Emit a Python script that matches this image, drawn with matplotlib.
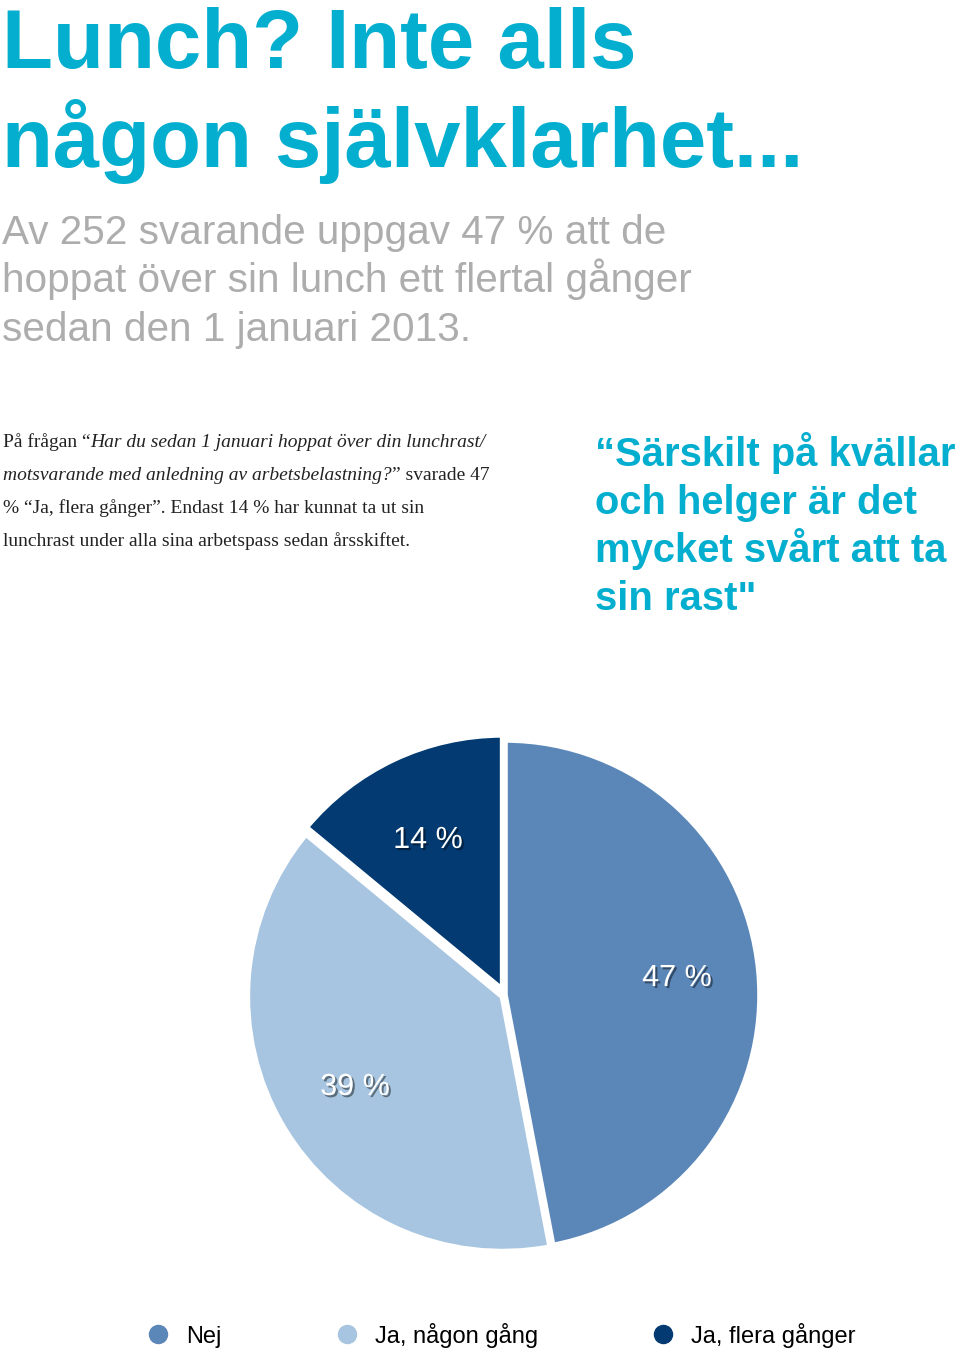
# -*- coding: utf-8 -*-
"""
Pie chart: did people skip lunch since 1 January 2013 (252 answers).
"""
import matplotlib
matplotlib.use("Agg")
import matplotlib.pyplot as plt
import matplotlib.patheffects as pe
from matplotlib.lines import Line2D

# data
labels = ["Nej", "Ja, någon gång", "Ja, flera gånger"]
shares = [47, 39, 14]
pct_texts = ["47 %", "39 %", "14 %"]
colors = ["#5b87b8", "#a7c5e0", "#023a71"]

title_lines = ["Lunch? Inte alls", "någon självklarhet..."]
sub_lines = ["Av 252 svarande uppgav 47 % att de",
             "hoppat över sin lunch ett flertal gånger",
             "sedan den 1 januari 2013."]
quote_lines = ["“Särskilt på kvällar", "och helger är det",
               "mycket svårt att ta", "sin rast\""]
body_lines = [
    [("På frågan “", "normal"), ("Har du sedan 1 januari hoppat över din lunchrast/", "italic")],
    [("motsvarande med anledning av arbetsbelastning?", "italic"), ("” svarade 47", "normal")],
    [("% “Ja, flera gånger”. Endast 14 % har kunnat ta ut sin", "normal")],
    [("lunchrast under alla sina arbetspass sedan årsskiftet.", "normal")],
]

CYAN = "#03aecf"
W, H = 960, 1351

fig = plt.figure(figsize=(W / 100, H / 100), dpi=100)
fig.patch.set_facecolor("white")


def fy(y):
    # pixel row from the top -> figure fraction
    return 1 - y / H


# title
for i, line in enumerate(title_lines):
    fig.text(2 / W, fy(68 + i * 99), line, color=CYAN, fontsize=60,
             fontweight="bold", family="Liberation Sans", va="baseline")

# grey sub heading
for i, line in enumerate(sub_lines):
    fig.text(2 / W, fy(244 + i * 48.5), line, color="#adadad", fontsize=29.2,
             family="Liberation Sans", va="baseline")

# body text with mixed roman / italic runs
renderer = fig.canvas.get_renderer()
for i, parts in enumerate(body_lines):
    x = 3
    for s, st in parts:
        t = fig.text(x / W, fy(447 + i * 33), s, color="#222222", fontsize=14,
                     family="Liberation Serif", style=st, va="baseline")
        x = t.get_window_extent(renderer).x1

# quote
for i, line in enumerate(quote_lines):
    fig.text(595 / W, fy(466 + i * 48), line, color=CYAN, fontsize=28.8,
             fontweight="bold", family="Liberation Sans", va="baseline")

# pie
cx, cy, R = 505, 995, 255
ax = fig.add_axes([(cx - R) / W, (H - cy - R) / H, 2 * R / W, 2 * R / H])
wedges, _ = ax.pie(shares, colors=colors, startangle=90, counterclock=False,
                   explode=[0, 0.012, 0.022],
                   wedgeprops=dict(edgecolor="white", linewidth=4))
ax.set_xlim(-1, 1)
ax.set_ylim(-1, 1)
ax.set_aspect("equal")
ax.axis("off")

shadow = [pe.SimplePatchShadow(offset=(1.5, -1.5), shadow_rgbFace="black", alpha=0.45),
          pe.Normal()]
label_pos = [(677, 978), (355, 1087), (428, 840)]
for txt, (px, py) in zip(pct_texts, label_pos):
    fig.text(px / W, fy(py), txt, color="white", fontsize=22,
             family="Liberation Sans", ha="center", va="center",
             path_effects=shadow)

# legend
handles = [Line2D([], [], marker="o", linestyle="", markersize=13,
                  markerfacecolor=c, markeredgecolor=c) for c in colors]
fig.legend(handles, labels, loc="center left", bbox_to_anchor=(125 / W, fy(1335)),
           ncol=3, frameon=False, handletextpad=0.69,
           columnspacing=4.8, handlelength=1.0,
           prop=dict(family="Liberation Sans", size=17))

fig.savefig("out.png", dpi=100)
